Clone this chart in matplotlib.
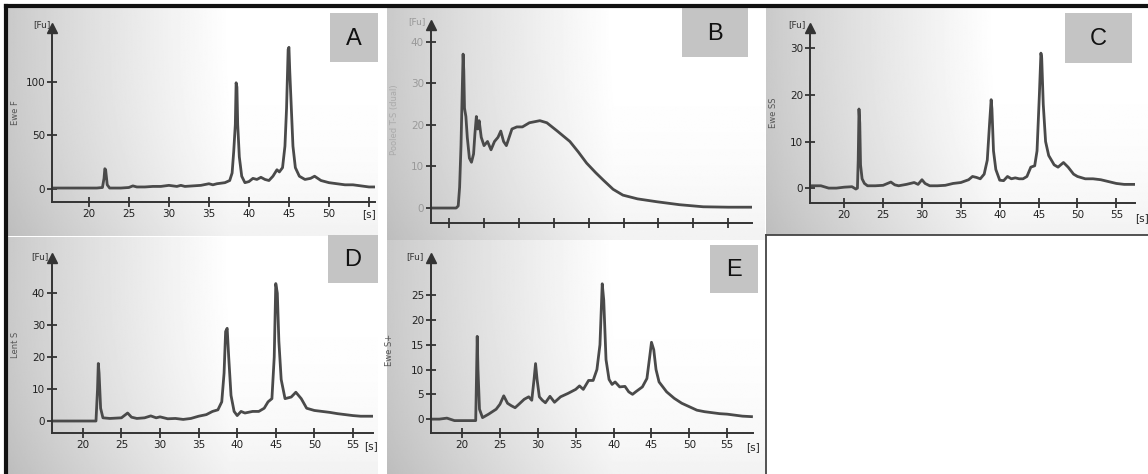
import numpy as np
import matplotlib
matplotlib.use('Agg')
import matplotlib.pyplot as plt
from matplotlib.patches import Rectangle

W, H = 1148, 474

# === TRACE DATA (time [s], signal [FU]) ===
a_t = [15.4, 17, 19, 21, 21.7, 21.9, 22.0, 22.1, 22.3, 22.6, 24, 25, 25.5, 26, 27, 28, 29, 30,
       30.5, 31, 31.5, 32, 33, 34, 35, 35.5, 36, 37, 37.6, 37.9, 38.1, 38.3, 38.4, 38.5, 38.6,
       38.8, 39.1, 39.5, 40, 40.5, 41, 41.5, 42, 42.5, 43, 43.5, 43.8, 44.2, 44.5, 44.7, 44.9,
       45.0, 45.1, 45.3, 45.5, 45.8, 46.3, 47, 47.7, 48.2, 49, 50, 51, 52, 53, 54, 55, 55.6]
a_fu = [1, 1, 1, 1, 1.5, 10, 19, 18, 4, 1, 1, 1.5, 3, 2, 2, 2.5, 2.5, 3.5,
        3, 2.5, 3.5, 2.5, 3, 3.5, 5, 4, 5, 6, 8, 15, 35, 60, 99, 95, 60,
        30, 12, 6, 7, 10, 9, 11, 9, 8, 12, 18, 16, 20, 40, 75, 130,
        132, 110, 75, 40, 20, 12, 9, 10, 12, 8, 6, 5, 4, 4, 3, 2, 2]

b_t = [17.4, 19, 21.0, 21.3, 21.5, 21.7, 21.9, 22.0, 22.1, 22.2, 22.4, 22.6, 22.9, 23.2, 23.5,
       23.7, 23.9, 24.1, 24.3, 24.6, 25.0, 25.5, 26.0, 26.5, 27.0, 27.4, 27.8, 28.2, 28.6, 29.0,
       29.7, 30.5, 31.5, 33.0, 34.0, 35.5, 37.3, 38.5, 39.7, 41.0, 42.1, 43.5, 44.9, 47.0, 49.8,
       53.0, 56.4, 60.0, 63.3]
b_fu = [0, 0, 0, 0.5, 5, 15, 30, 37, 33, 24, 22, 17, 12, 11, 13,
        18, 22, 19, 21, 17, 15, 16, 14, 16, 17, 18.5, 16, 15, 17, 19,
        19.5, 19.5, 20.5, 21, 20.5, 18.5, 16, 13.5, 10.8, 8.5, 6.7, 4.5, 3.1, 2.2, 1.5,
        0.8, 0.3, 0.2, 0.2]

c_t = [15.6, 17, 18, 19, 20, 21, 21.5, 21.7, 21.8, 21.9, 22.0, 22.1, 22.3, 22.6, 23, 24, 25,
       26, 26.5, 27, 28, 29, 29.5, 30, 30.4, 31, 32, 33, 34, 35, 36, 36.5, 37, 37.5, 38, 38.4,
       38.7, 38.9, 39.0, 39.2, 39.5, 40, 40.5, 41, 41.5, 42, 42.5, 43, 43.5, 44, 44.5, 44.8,
       45.1, 45.3, 45.4, 45.6, 45.9, 46.3, 47, 47.5, 48.2, 48.8, 49.5, 50, 51, 52, 53, 54, 55,
       56, 57.4]
c_fu = [0.5, 0.5, 0, 0, 0.2, 0.3, -0.2, 0, 6, 17, 14, 5, 2, 1, 0.5, 0.5, 0.6,
        1.3, 0.7, 0.5, 0.8, 1.2, 0.8, 1.8, 1, 0.5, 0.5, 0.6, 1, 1.2, 1.8, 2.5, 2.3, 2, 3, 6,
        14, 19, 17, 8, 4, 1.7, 1.6, 2.5, 2, 2.2, 2, 2, 2.5, 4.5, 4.8, 8,
        20, 29, 28, 18, 10, 7, 5, 4.5, 5.5, 4.5, 3, 2.5, 2, 2, 1.8, 1.4, 1,
        0.8, 0.8]

d_t = [16.0, 17, 18, 20, 21, 21.7, 21.9, 22.0, 22.1, 22.3, 22.6, 23.5, 25, 25.8, 26.3, 27, 28,
       28.8, 29.5, 30, 31, 32, 33, 34, 35, 36, 36.8, 37.5, 38, 38.3, 38.5, 38.7, 38.9, 39.2,
       39.6, 40, 40.5, 41, 42, 42.8, 43.5, 44, 44.5, 44.8, 45, 45.2, 45.4, 45.7, 46.2, 47,
       47.6, 48.3, 49, 50, 51, 52, 53, 54, 55, 56, 57.6]
d_fu = [0, 0, 0, 0, 0, 0, 10, 18, 15, 4, 1, 0.8, 1, 2.5, 1.2, 0.8, 1,
        1.6, 1, 1.3, 0.7, 0.8, 0.5, 0.8, 1.5, 2, 3, 3.5, 6, 15, 28, 29, 20, 8,
        3, 1.7, 3, 2.5, 3, 3, 4, 6, 7, 20, 43, 40, 25, 13, 7, 7.5,
        9, 7, 4, 3.3, 3, 2.7, 2.3, 2, 1.7, 1.5, 1.5]

e_t = [15.9, 17, 18, 19, 20, 21, 21.8, 21.9, 22.0, 22.1, 22.3, 22.7, 23.5, 24.5, 25, 25.5, 26,
       26.5, 27, 27.5, 28.2, 28.8, 29.2, 29.5, 29.7, 29.9, 30.2, 30.6, 31, 31.6, 32.2, 33, 34,
       35, 35.5, 36, 36.7, 37.3, 37.8, 38.2, 38.5, 38.7, 39, 39.4, 39.8, 40.2, 40.8, 41.5, 42,
       42.5, 43, 43.8, 44.4, 44.8, 45.0, 45.3, 45.6, 46, 47, 48, 49, 50, 51, 52, 53, 54, 55,
       56, 57, 58.2]
e_fu = [0, 0, 0.2, -0.3, -0.3, -0.3, -0.3, 8, 16.7, 10, 2, 0.3, 1, 2, 3, 4.7, 3.2,
        2.7, 2.3, 3, 4, 4.5, 3.8, 8, 11.2, 8, 4.5, 3.8, 3.3, 4.6, 3.4, 4.5, 5.2,
        6, 6.7, 6, 7.8, 7.8, 10, 15, 27.3, 24, 12, 8, 7, 7.5, 6.5, 6.6, 5.5,
        5, 5.6, 6.5, 8.2, 13, 15.5, 14, 10, 7.5, 5.5, 4.2, 3.2, 2.5, 1.8, 1.5, 1.3, 1.1, 1,
        0.8, 0.6, 0.5]

panel_letters = ['A', 'B', 'C', 'D', 'E']
y_titles = ['Ewe F', 'Pooled T-S (dual)', 'Ewe SS', 'Lent S', 'Ewe S+']
x_ticks_std = [20, 25, 30, 35, 40, 45, 50, 55]


def frac(x0, y0, x1, y1):
    # pixel box (top-left origin) -> figure fraction rect
    return [x0 / W, 1 - y1 / H, (x1 - x0) / W, (y1 - y0) / H]


fig = plt.figure(figsize=(W / 100, H / 100), dpi=100)
fig.patch.set_facecolor('white')

# === PANEL BACKGROUNDS (grey to white wash) ===
bg_boxes = [(8, 8, 378, 236), (387, 8, 765, 240), (766, 8, 1148, 235),
            (8, 237, 378, 474), (387, 240, 765, 474)]
gx = np.linspace(0, 1, 300)[None, :]
gy = np.linspace(0, 1, 150)[:, None]
wash = np.clip(0.79 + 0.21 * np.clip(gx / 0.6, 0, 1) ** 0.9 - 0.05 * gy ** 3, 0, 1)
for box in bg_boxes:
    bax = fig.add_axes(frac(*box))
    bax.imshow(wash, cmap='gray', vmin=0, vmax=1, aspect='auto',
               extent=[0, 1, 0, 1], interpolation='bilinear')
    bax.set_axis_off()

# === TRACE AXES ===
layout = [
    # pixel box of axes, xlim, ylim, yticks, xticks, xlabels
    dict(box=(52, 28, 375, 202), xlim=(15.4, 55.75), ylim=(-12, 150),
         yticks=[0, 50, 100], xticks=x_ticks_std,
         xlabels=['20', '25', '30', '35', '40', '45', '50', '[s]']),
    dict(box=(431, 25, 752, 223), xlim=(17.4, 63.4), ylim=(-3.6, 44),
         yticks=[0, 10, 20, 30, 40], xticks=[20, 25, 30, 35, 40, 45, 50, 55, 60],
         xlabels=[''] * 9),
    dict(box=(810, 28, 1135, 203), xlim=(15.6, 57.4), ylim=(-3.2, 34.4),
         yticks=[0, 10, 20, 30], xticks=x_ticks_std,
         xlabels=[str(v) for v in x_ticks_std]),
    dict(box=(52, 258, 373, 433), xlim=(16.0, 57.6), ylim=(-3.75, 51),
         yticks=[0, 10, 20, 30, 40], xticks=x_ticks_std,
         xlabels=[str(v) for v in x_ticks_std]),
    dict(box=(431, 258, 753, 433), xlim=(15.9, 58.4), ylim=(-2.8, 32.5),
         yticks=[0, 5, 10, 15, 20, 25], xticks=x_ticks_std,
         xlabels=[str(v) for v in x_ticks_std]),
]
traces = [(a_t, a_fu), (b_t, b_fu), (c_t, c_fu), (d_t, d_fu), (e_t, e_fu)]

for i, (cfg, (t, fu)) in enumerate(zip(layout, traces)):
    ax = fig.add_axes(frac(*cfg['box']))
    ax.patch.set_alpha(0)
    ax.plot(t, fu, color='#4a4a4a', lw=2.0, solid_joinstyle='round')
    ax.set_xlim(*cfg['xlim'])
    ax.set_ylim(*cfg['ylim'])
    for s in ['top', 'right']:
        ax.spines[s].set_visible(False)
    for s in ['left', 'bottom']:
        ax.spines[s].set_color('#333333')
        ax.spines[s].set_linewidth(1.4)
    ax.set_yticks(cfg['yticks'])
    ax.set_xticks(cfg['xticks'])
    ax.set_xticklabels(cfg['xlabels'])
    lab_col = '#9a9a9a' if i == 1 else '#222222'
    ax.tick_params(direction='inout', length=7, width=1.3, color='#333333',
                   labelsize=7.5, pad=1.5, labelcolor=lab_col)
    # arrow head on the y axis
    ax.plot(0, 1, marker='^', color='#333333', markersize=7,
            transform=ax.transAxes, clip_on=False)

# === OVERLAY: frames, letters, unit labels ===
ov = fig.add_axes([0, 0, 1, 1])
ov.set_xlim(0, W)
ov.set_ylim(H, 0)
ov.set_axis_off()
ov.patch.set_alpha(0)

ov.plot([6, W], [6, 6], color='#111111', lw=3)
ov.plot([6, 6], [6, H], color='#111111', lw=3)
ov.plot([766, W], [235, 235], color='#444444', lw=1.3)
ov.plot([766, 766], [235, H], color='#444444', lw=1.3)

letter_boxes = [(330, 13, 378, 62), (682, 8, 748, 57), (1065, 13, 1132, 63),
                (328, 235, 378, 283), (710, 245, 758, 293)]
for letter, (x0, y0, x1, y1) in zip(panel_letters, letter_boxes):
    ov.add_patch(Rectangle((x0, y0), x1 - x0, y1 - y0, facecolor='#c4c4c4',
                           edgecolor='none'))
    ov.text((x0 + x1) / 2, (y0 + y1) / 2 + 1, letter, ha='center', va='center',
            fontsize=17, family='Liberation Sans', color='#111111')

fu_pos = [(42, 25), (417, 22), (797, 25), (40, 257), (415, 257)]
for i, (x, y) in enumerate(fu_pos):
    ov.text(x, y, '[Fu]', ha='center', va='center', fontsize=6.5,
            color='#999999' if i == 1 else '#333333')

for x, y in [(1142, 218), (371, 446), (753, 447)]:
    ov.text(x, y, '[s]', ha='center', va='center', fontsize=7.5, color='#222222')

ytitle_pos = [(15, 113), (394, 120), (773, 113), (15, 345), (390, 350)]
for i, (txt, (x, y)) in enumerate(zip(y_titles, ytitle_pos)):
    ov.text(x, y, txt, rotation=90, ha='center', va='center', fontsize=6,
            color='#aaaaaa' if i == 1 else '#555555')

fig.savefig('out.png', dpi=100)
